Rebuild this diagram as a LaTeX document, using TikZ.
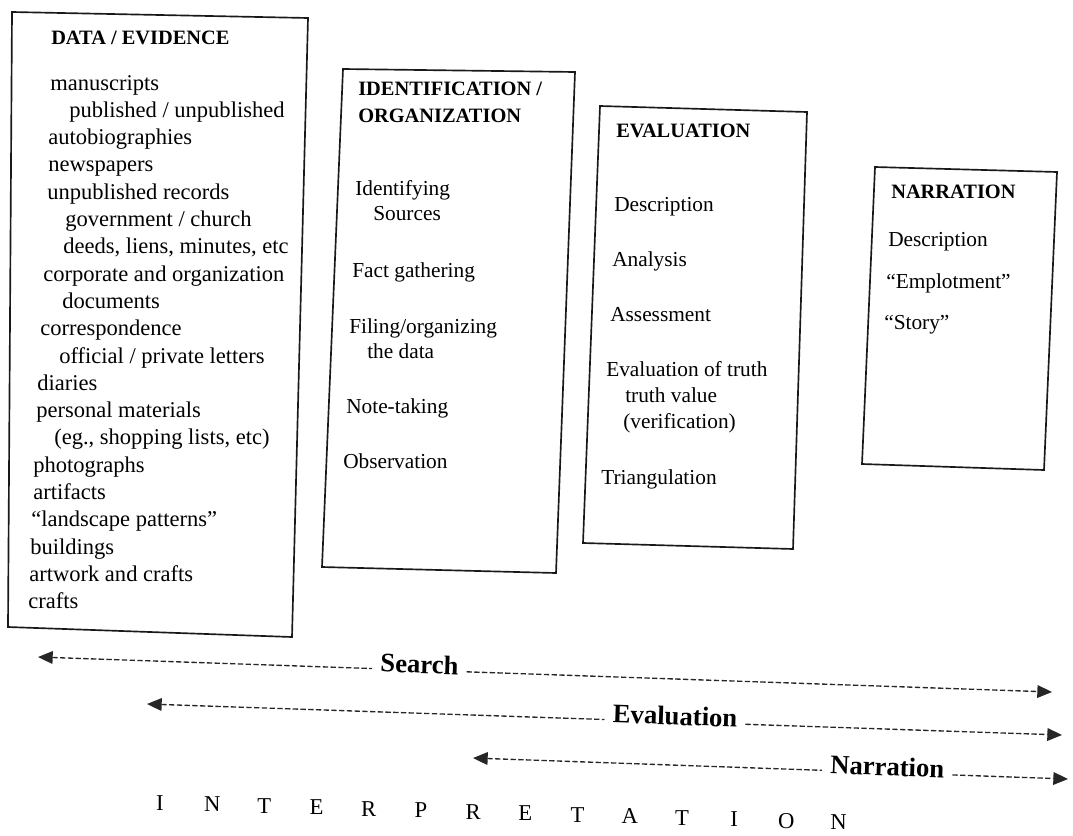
\documentclass[tikz,border=0pt]{standalone}
\usepackage{fontspec}
\setmainfont{Liberation Serif}
\usetikzlibrary{arrows.meta}
\begin{document}
\begin{tikzpicture}[x=0.75pt,y=-0.75pt,
  frame/.style={draw=black!90,line width=1.25pt,line join=miter},
  head/.style={anchor=base west,inner sep=0pt,font=\fontsize{15.3}{18}\selectfont\bfseries},
  item/.style={anchor=base west,inner sep=0pt,font=\fontsize{16}{18}\selectfont},
  bigitem/.style={item,font=\fontsize{16.9}{19}\selectfont},
  tag/.style={sloped,anchor=mid,inner xsep=6pt,inner ysep=0pt,font=\fontsize{20}{24}\selectfont\bfseries},
  dashline/.style={draw=black!85,line width=1pt,dash pattern=on 4pt off 1.8pt},
  tipL/.style={dashline,{Triangle[length=11pt,width=9.5pt]}-},
  tipR/.style={dashline,-{Triangle[length=11pt,width=9.5pt]}},
  letter/.style={anchor=base,inner sep=0pt,font=\fontsize{17}{20}\selectfont}]
\useasboundingbox (0,0) rectangle (1073,835);

% ---------- box 1 : DATA / EVIDENCE
\coordinate (b1tl) at (12,12);  \coordinate (b1tr) at (308,18);
\coordinate (b1br) at (292,637); \coordinate (b1bl) at (8,627);
\draw[frame] (b1tl) -- (b1tr) -- (b1br) -- (b1bl) -- cycle;
\node[head] (h1) at (51,44) {DATA / EVIDENCE};
\foreach \x/\t [count=\i] in {
  50/{manuscripts},
  69/{published / unpublished},
  48/{autobiographies},
  48/{newspapers},
  47/{unpublished records},
  65/{government / church},
  63/{deeds, liens, minutes, etc},
  43/{corporate and organization},
  62/{documents},
  40/{correspondence},
  59/{official / private letters},
  37/{diaries},
  36/{personal materials},
  54/{(eg., shopping lists, etc)},
  33/{photographs},
  33/{artifacts},
  31/{“landscape patterns”},
  30/{buildings},
  29/{artwork and crafts},
  28/{crafts}}
  \node[bigitem] (d\i) at (\x,{90+(\i-1)*27.3}) {\t};

% ---------- box 2 : IDENTIFICATION / ORGANIZATION
\coordinate (b2tl) at (343,69);  \coordinate (b2tr) at (575,72);
\coordinate (b2br) at (556,573); \coordinate (b2bl) at (322,567);
\draw[frame] (b2tl) -- (b2tr) -- (b2br) -- (b2bl) -- cycle;
\node[head] (h2a) at (358,95) {IDENTIFICATION /};
\node[head] (h2b) at (358,122) {ORGANIZATION};
\foreach \x/\y/\t [count=\i] in {
  355/195/{Identifying},
  373/220/{Sources},
  352/277/{Fact gathering},
  349/333/{Filing/organizing},
  367/358/{the data},
  346/413/{Note-taking},
  343/468/{Observation}}
  \node[item] (o\i) at (\x,\y) {\t};

% ---------- box 3 : EVALUATION
\coordinate (b3tl) at (600,106);  \coordinate (b3tr) at (807,112);
\coordinate (b3br) at (793,549); \coordinate (b3bl) at (583,543);
\draw[frame] (b3tl) -- (b3tr) -- (b3br) -- (b3bl) -- cycle;
\node[head] (h3) at (616,137) {EVALUATION};
\foreach \x/\y/\t [count=\i] in {
  614/211/{Description},
  612/266/{Analysis},
  610/321/{Assessment},
  606/376/{Evaluation of truth},
  625/402/{truth value},
  623/428/{(verification)},
  601/484/{Triangulation}}
  \node[item] (e\i) at (\x,\y) {\t};

% ---------- box 4 : NARRATION
\coordinate (b4tl) at (875,167);  \coordinate (b4tr) at (1057,172);
\coordinate (b4br) at (1044,470); \coordinate (b4bl) at (862,464);
\draw[frame] (b4tl) -- (b4tr) -- (b4br) -- (b4bl) -- cycle;
\node[head] (h4) at (891,198) {NARRATION};
\foreach \x/\y/\t [count=\i] in {
  888/246/{Description},
  886/288/{“Emplotment”},
  884/329/{“Story”}}
  \node[item] (n\i) at (\x,\y) {\t};

% ---------- spans
\coordinate (sL) at (38,657);  \coordinate (sR) at (1052,692);
\path (sL) -- (sR) node[tag,pos=0.376] (sT) {Search};
\draw[tipL] (sL) -- (sT.mid west);
\draw[tipR] (sT.mid east) -- (sR);

\coordinate (eL) at (147,704); \coordinate (eR) at (1062,735);
\path (eL) -- (eR) node[tag,pos=0.577] (eT) {Evaluation};
\draw[tipL] (eL) -- (eT.mid west);
\draw[tipR] (eT.mid east) -- (eR);

\coordinate (nL) at (473,758); \coordinate (nR) at (1068,779);
\path (nL) -- (nR) node[tag,pos=0.696] (nT) {Narration};
\draw[tipL] (nL) -- (nT.mid west);
\draw[tipR] (nT.mid east) -- (nR);

% ---------- INTERPRETATION
\foreach \l [count=\i] in {I,N,T,E,R,P,R,E,T,A,T,I,O,N}
  \node[letter] (L\i) at ({160+(\i-1)*52.2},{810+(\i-1)*1.5}) {\l};
\end{tikzpicture}
\end{document}
